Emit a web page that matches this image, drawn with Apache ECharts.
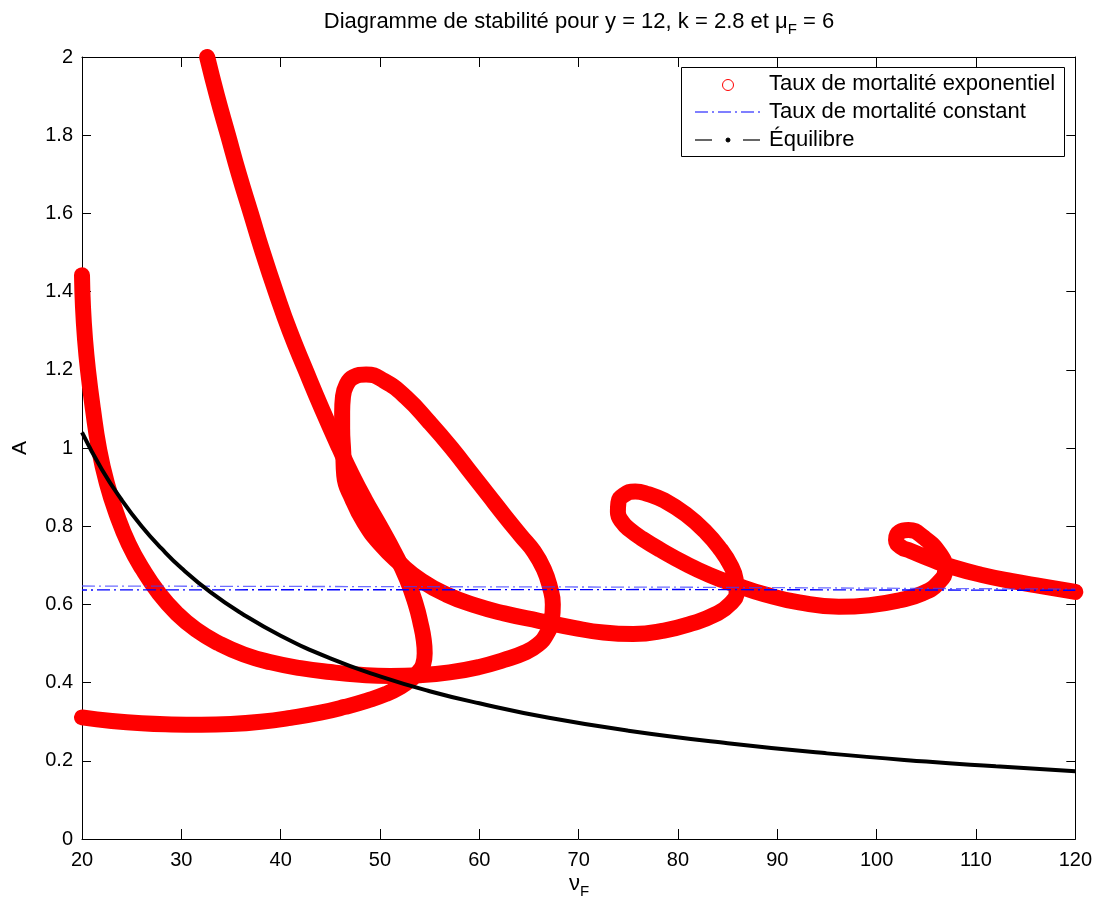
<!DOCTYPE html>
<html>
<head>
<meta charset="utf-8">
<script src="https://cdn.jsdelivr.net/npm/echarts@6/dist/echarts.min.js"></script>
<style>
html,body{margin:0;padding:0;background:#fff;}
#chart{width:1095px;height:903px;}
</style>
</head>
<body>
<div id="chart"></div>
<script>
// ---- tick labels ----
const xTicks = [20, 30, 40, 50, 60, 70, 80, 90, 100, 110, 120];
const yTicks = [0, 0.2, 0.4, 0.6, 0.8, 1, 1.2, 1.4, 1.6, 1.8, 2];

// ---- exponential mortality rate curve, branch 1 (bottom band -> cusp -> steep line to top) ----
const branch1Nu = [20, 23, 26, 29, 32, 35, 38, 41, 44, 46.5, 48.7, 50.6, 52.1, 53.2, 53.9, 54.35, 54.5, 54.4, 54.1, 53.6, 52.7, 51.5, 50.0, 48.5, 47.2, 45.9, 44.15, 42.5, 40.9, 39.5, 38.2, 37.0, 35.8, 34.7, 33.6, 32.6];
const branch1A  = [0.311, 0.302, 0.296, 0.293, 0.292, 0.294, 0.300, 0.310, 0.323, 0.338, 0.354, 0.371, 0.390, 0.410, 0.428, 0.447, 0.475, 0.51, 0.55, 0.60, 0.665, 0.73, 0.80, 0.867, 0.93, 1.0, 1.1, 1.2, 1.3, 1.4, 1.5, 1.6, 1.7, 1.8, 1.9, 2.0];

// ---- exponential mortality rate curve, branch 2 (left top -> loops -> right end) ----
const branch2Nu = [20.0, 20.1, 20.3, 20.6, 21.1, 21.7, 22.5, 23.5, 24.7, 26.1, 27.7, 29.5, 31.5, 33.8, 36.3, 39, 42, 45, 48, 51, 54, 57, 60, 62.5, 64.5, 65.9, 66.8, 67.3, 67.4, 67.1, 66.5, 65.5, 64.2, 62.6, 60.9, 59.2, 57.2, 55.0, 52.6, 50.4, 48.6, 47.3, 46.6, 46.27, 46.19, 46.19, 46.3, 46.4, 47.2, 48.4, 50, 52, 54.2, 56.7, 59.5, 62.5, 66, 69.5, 72.5, 75.5, 78.6, 81.5, 83.8, 85.2, 85.9, 85.8, 85.3, 84.3, 82.8, 80.8, 78.6, 77.0, 75.7, 74.5, 74.0, 73.95, 74.4, 75.2, 76.4, 78.2, 80.7, 83.2, 85.8, 88.7, 92.2, 96.2, 99.3, 102.2, 104.6, 106.2, 106.9, 106.4, 104.7, 103.2, 102.3, 101.95, 102.4, 103.4, 105.6, 107.7, 110.5, 113.5, 116.7, 120];
const branch2A  = [1.442, 1.36, 1.28, 1.20, 1.10, 1.00, 0.91, 0.83, 0.755, 0.69, 0.63, 0.578, 0.535, 0.50, 0.472, 0.452, 0.437, 0.427, 0.42, 0.417, 0.419, 0.426, 0.44, 0.458, 0.476, 0.497, 0.525, 0.56, 0.60, 0.645, 0.69, 0.735, 0.775, 0.825, 0.88, 0.935, 1.0, 1.065, 1.13, 1.172, 1.188, 1.181, 1.16, 1.13, 1.092, 1.051, 0.99, 0.93, 0.87, 0.81, 0.755, 0.705, 0.66, 0.625, 0.598, 0.577, 0.558, 0.54, 0.528, 0.524, 0.533, 0.552, 0.575, 0.60, 0.632, 0.665, 0.70, 0.74, 0.785, 0.83, 0.866, 0.882, 0.889, 0.879, 0.86, 0.836, 0.81, 0.79, 0.768, 0.74, 0.705, 0.675, 0.65, 0.626, 0.605, 0.594, 0.598, 0.61, 0.628, 0.655, 0.69, 0.728, 0.772, 0.79, 0.785, 0.765, 0.748, 0.737, 0.714, 0.695, 0.676, 0.66, 0.646, 0.632];

// ---- constant mortality rate (dash-dot, two close traces) ----
const constNu = [20, 80, 120];
const const1A = [0.647, 0.644, 0.639];
const const2A = [0.637, 0.638, 0.636];

// ---- equilibrium curve ----
const eqNu = [20, 22, 24, 26, 28, 30, 33, 36, 40, 45, 50, 55, 60, 67, 75, 85, 95, 105, 112, 120];
const eqA  = [1.04, 0.945, 0.867, 0.80, 0.743, 0.693, 0.63, 0.578, 0.52, 0.462, 0.416, 0.378, 0.347, 0.31, 0.277, 0.245, 0.219, 0.198, 0.186, 0.173];

const FONT = '"Liberation Sans", Arial, Helvetica, sans-serif';
function pairs(xs, ys) { return xs.map((x, i) => [x, ys[i]]); }

const chart = echarts.init(document.getElementById('chart'), null, {renderer: 'canvas'});

const axisCommon = {
  type: 'value',
  axisLine: {show: true, onZero: false, lineStyle: {color: '#000', width: 1}},
  splitLine: {show: false}
};

const redStyle = {color: '#ff0000', width: 16, cap: 'round', join: 'round'};
const subRich = {
  a: {fontSize: 22, lineHeight: 24, fontFamily: FONT, color: '#000'},
  s: {fontSize: 15, lineHeight: 15, padding: [15, 0, 0, 0], fontFamily: FONT, color: '#000'}
};

const option = {
  animation: false,
  backgroundColor: '#fff',
  grid: {left: 82, right: 19, top: 57, bottom: 64, containLabel: false},
  xAxis: [
    Object.assign({}, axisCommon, {
      min: xTicks[0], max: xTicks[xTicks.length - 1], interval: 10, position: 'bottom',
      axisTick: {show: true, inside: true, length: 10, lineStyle: {color: '#000'}},
      axisLabel: {color: '#000', fontSize: 20, fontFamily: FONT, margin: 11}
    }),
    Object.assign({}, axisCommon, {
      min: xTicks[0], max: xTicks[xTicks.length - 1], interval: 10, position: 'top',
      axisTick: {show: true, inside: true, length: 10, lineStyle: {color: '#000'}},
      axisLabel: {show: false}
    })
  ],
  yAxis: [
    Object.assign({}, axisCommon, {
      min: yTicks[0], max: yTicks[yTicks.length - 1], interval: 0.2, position: 'left',
      axisTick: {show: true, inside: true, length: 9, lineStyle: {color: '#000'}},
      axisLabel: {color: '#000', fontSize: 20, fontFamily: FONT, margin: 9,
        formatter: v => String(Math.round(v * 10) / 10)}
    }),
    Object.assign({}, axisCommon, {
      min: yTicks[0], max: yTicks[yTicks.length - 1], interval: 0.2, position: 'right',
      axisTick: {show: true, inside: true, length: 9, lineStyle: {color: '#000'}},
      axisLabel: {show: false}
    })
  ],
  series: [
    {type: 'line', name: 'Taux de mortalité exponentiel', data: pairs(branch1Nu, branch1A),
      smooth: 0.5, showSymbol: false, symbol: 'none', clip: false, lineStyle: redStyle, z: 2},
    {type: 'line', name: 'Taux de mortalité exponentiel', data: pairs(branch2Nu, branch2A),
      smooth: 0.5, showSymbol: false, symbol: 'none', clip: false, lineStyle: redStyle, z: 2},
    {type: 'line', name: 'Taux de mortalité constant', data: pairs(constNu, const1A),
      symbol: 'none', lineStyle: {color: '#3d3dff', opacity: 0.75, width: 1.3, type: [13, 4, 2, 4]}, z: 3},
    {type: 'line', name: 'Taux de mortalité constant', data: pairs(constNu, const2A),
      symbol: 'none', lineStyle: {color: '#0000ff', width: 1.4, type: [13, 4, 2, 4], dashOffset: 8}, z: 3},
    {type: 'line', name: 'Équilibre', data: pairs(eqNu, eqA),
      smooth: 0.5, symbol: 'none', lineStyle: {color: '#000', width: 4}, z: 4}
  ],
  graphic: [
    {type: 'text', x: 579, y: 22, z: 10,
      style: {
        text: '{a|Diagramme de stabilité pour y = 12, k = 2.8 et μ}{s|F}{a| = 6}',
        align: 'center', verticalAlign: 'middle', textAlign: 'center', textVerticalAlign: 'middle',
        fill: '#000', font: '22px ' + FONT, rich: subRich
      }},
    {type: 'text', x: 579, y: 884, z: 10,
      style: {
        text: '{a|ν}{s|F}',
        align: 'center', verticalAlign: 'middle', textAlign: 'center', textVerticalAlign: 'middle',
        fill: '#000', font: '22px ' + FONT, rich: subRich
      }},
    {type: 'text', x: 20, y: 448, rotation: Math.PI / 2, z: 10,
      style: {text: 'A', align: 'center', verticalAlign: 'middle', textAlign: 'center', textVerticalAlign: 'middle',
        fill: '#000', font: '21px ' + FONT}},
    {type: 'rect', shape: {x: 681.5, y: 67.5, width: 383, height: 89}, z: 20,
      style: {fill: '#fff', stroke: '#000', lineWidth: 1}},
    {type: 'circle', shape: {cx: 728, cy: 85, r: 5.5}, z: 21,
      style: {fill: 'none', stroke: '#ff0000', lineWidth: 1}},
    {type: 'line', shape: {x1: 695, y1: 112, x2: 760, y2: 112}, z: 21,
      style: {stroke: '#0000ff', lineWidth: 1.2, lineDash: [13, 4, 2, 4]}},
    {type: 'line', shape: {x1: 695, y1: 140, x2: 712, y2: 140}, z: 21,
      style: {stroke: '#000', lineWidth: 1.2}},
    {type: 'circle', shape: {cx: 728, cy: 140, r: 2}, z: 21,
      style: {fill: '#000', stroke: '#000', lineWidth: 1}},
    {type: 'line', shape: {x1: 743, y1: 140, x2: 760, y2: 140}, z: 21,
      style: {stroke: '#000', lineWidth: 1.2}},
    {type: 'text', x: 769, y: 84, z: 21,
      style: {text: 'Taux de mortalité exponentiel', verticalAlign: 'middle', textVerticalAlign: 'middle', fill: '#000', font: '22px ' + FONT}},
    {type: 'text', x: 769, y: 112, z: 21,
      style: {text: 'Taux de mortalité constant', verticalAlign: 'middle', textVerticalAlign: 'middle', fill: '#000', font: '22px ' + FONT}},
    {type: 'text', x: 769, y: 140, z: 21,
      style: {text: 'Équilibre', verticalAlign: 'middle', textVerticalAlign: 'middle', fill: '#000', font: '22px ' + FONT}}
  ]
};
chart.setOption(option);
</script>
</body>
</html>
